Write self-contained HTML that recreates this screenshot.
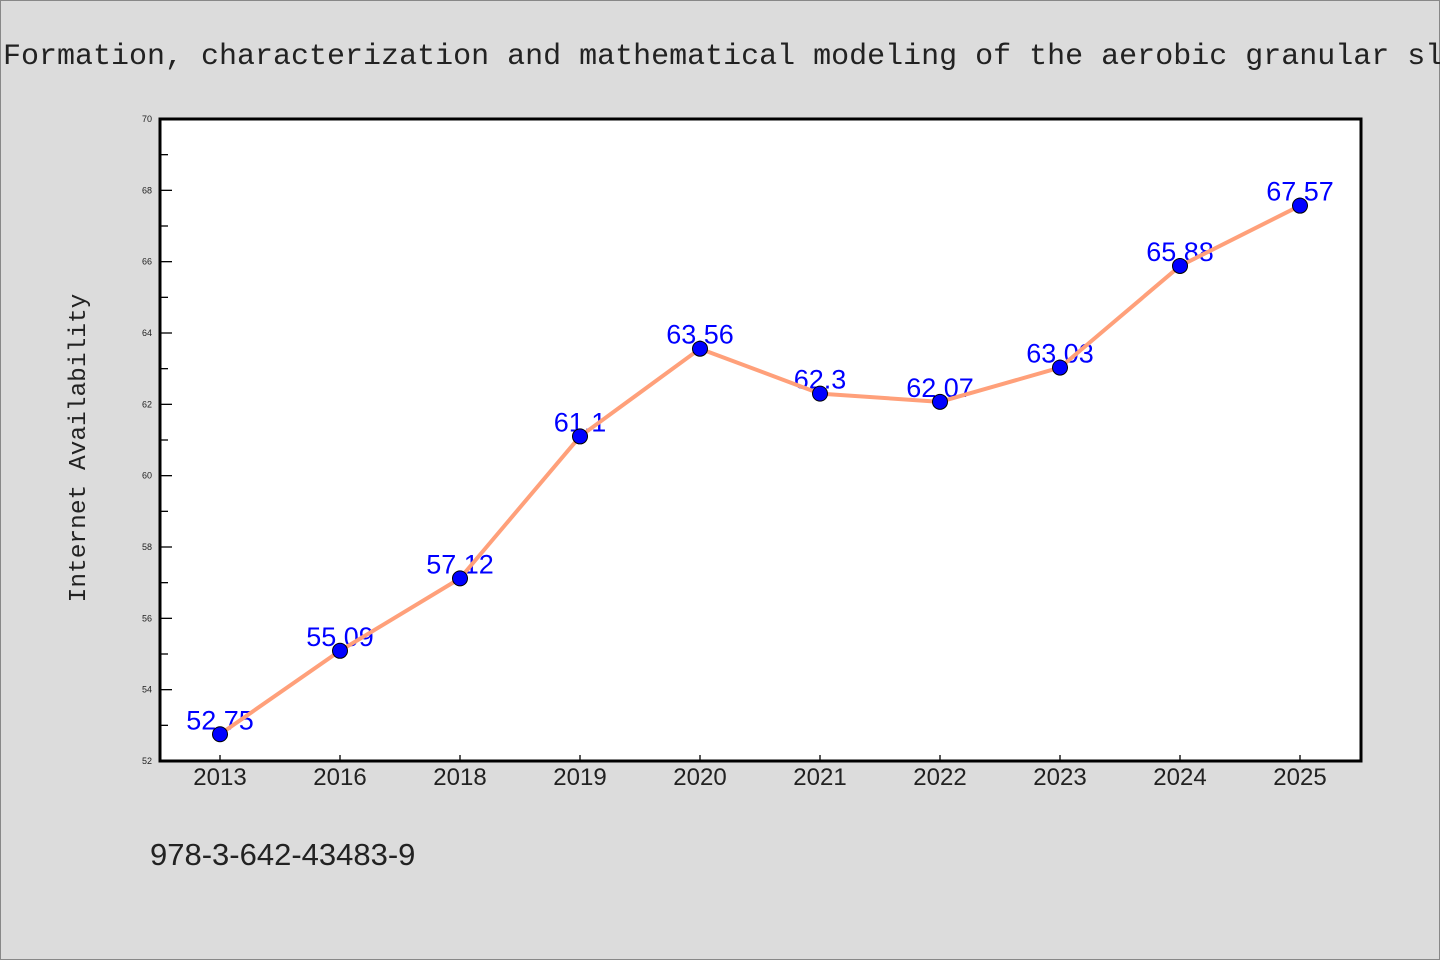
<!DOCTYPE html>
<html><head><meta charset="utf-8"><style>
body{margin:0;background:#dcdcdc;}
svg{display:block}
</style></head><body>
<svg width="1440" height="960" xmlns="http://www.w3.org/2000/svg">
<rect x="0.5" y="0.5" width="1439" height="959" fill="#dcdcdc" stroke="#888"/>
<text x="3" y="64" font-family="Liberation Mono, monospace" font-size="30" fill="#222">Formation, characterization and mathematical modeling of the aerobic granular sl</text>
<rect x="160" y="119" width="1201" height="642" fill="#fff"/>
<g id="g"></g>
<rect x="160" y="119" width="1201" height="642" fill="none" stroke="#000" stroke-width="3"/>
<text transform="translate(85,448) rotate(-90)" text-anchor="middle" font-family="Liberation Mono, monospace" font-size="24.5" fill="#222">Internet Availability</text>
<text x="150" y="865" font-family="Liberation Sans, sans-serif" font-size="31" fill="#222">978-3-642-43483-9</text>
</svg>
<script>
const categories=["2013","2016","2018","2019","2020","2021","2022","2023","2024","2025"];
const values=[52.75,55.09,57.12,61.1,63.56,62.3,62.07,63.03,65.88,67.57];
const valueLabels=["52.75","55.09","57.12","61.1","63.56","62.3","62.07","63.03","65.88","67.57"];
const yTicks=[52,54,56,58,60,62,64,66,68,70];
const yMin=52,yMax=70,L=160,T=119,W=1201,H=642;
const ns="http://www.w3.org/2000/svg";
const g=document.getElementById('g');
function y(v){return T+H-(v-yMin)/(yMax-yMin)*H;}
function x(i){return 220+i*120;}
function mk(t,a){const e=document.createElementNS(ns,t);for(const k in a)e.setAttribute(k,a[k]);g.appendChild(e);return e;}
for(let v=yMin;v<=yMax;v++){
  const major=yTicks.includes(v);
  const t=mk('line',{x1:L,x2:L+(major?12:8),y1:y(v),y2:y(v),stroke:'#000','stroke-width':1.3});
  
  
}
yTicks.forEach(v=>{
  const t=mk('text',{x:152,y:y(v)+3,'text-anchor':'end','font-family':'Liberation Sans, sans-serif','font-size':9,fill:'#222'});
  t.textContent=v;
  
  
});
categories.forEach((c,i)=>{
  const tk=mk('line',{x1:x(i),x2:x(i),y1:T+H,y2:T+H-6,stroke:'#000','stroke-width':1.3});
  
  
  const t=mk('text',{x:x(i),y:785,'text-anchor':'middle','font-family':'Liberation Sans, sans-serif','font-size':24,fill:'#222'});
  t.textContent=c;
  
  
});
values.forEach((v,i)=>{
  const t=mk('text',{x:x(i),y:y(v)-5,'text-anchor':'middle','font-family':'Liberation Sans, sans-serif','font-size':27,fill:'#0000ff'});
  t.textContent=valueLabels[i];
  
  
});
const p=mk('polyline',{points:values.map((v,i)=>x(i)+','+y(v)).join(' '),fill:'none',stroke:'#ffa07a','stroke-width':4,'stroke-linejoin':'round'});


values.forEach((v,i)=>{
  const c=mk('circle',{cx:x(i),cy:y(v),r:7.5,fill:'#0000ff',stroke:'#000','stroke-width':1});
  
  
});
</script>
</body></html>
